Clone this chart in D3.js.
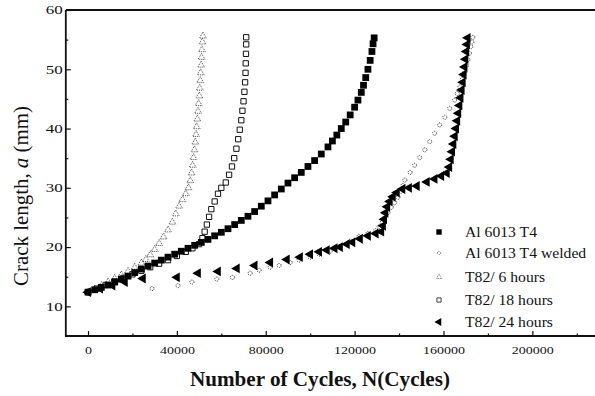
<!DOCTYPE html>
<html>
<head>
<meta charset="utf-8">
<script src="https://cdn.jsdelivr.net/npm/d3@7/dist/d3.min.js"></script>
<style>
  body { margin: 0; background: #fff; }
  svg { display: block; }
  text { font-family: "Liberation Serif", "Times New Roman", serif; fill: #111; }
</style>
</head>
<body>
<svg id="chart" width="595" height="396"></svg>
<script>
// crack length a (mm) vs number of cycles N
const seriesNames = ['Al 6013 T4', 'Al 6013 T4 welded', 'T82/  6 hours', 'T82/ 18 hours', 'T82/ 24 hours'];

const alT4 = [[0,12.4],[3000,12.8],[6000,13.2],[9000,13.6],[12000,14.1],[15000,14.6],[18000,15.1],[21000,15.7],
  [24000,16.3],[27000,16.8],[30000,17.3],[33000,17.8],[36000,18.3],[39000,18.8],[42000,19.3],[45000,19.8],
  [48000,20.3],[51000,20.8],[54000,21.3],[57000,21.9],[60000,22.5],[63000,23.1],[66000,23.8],[69000,24.5],
  [72000,25.2],[75000,26.0],[78000,26.9],[81000,27.8],[84000,28.8],[87000,29.8],[90000,30.8],[93000,31.7],
  [96000,32.6],[99000,33.6],[102000,34.6],[105000,35.7],[108000,36.9],[110000,37.9],[112000,38.9],[114000,40.0],
  [116000,41.1],[118000,42.3],[120000,43.6],[121500,44.8],[123000,46.1],[124000,47.3],[125000,48.6],[126000,50.0],
  [127000,51.5],[127800,53.0],[128300,54.3],[128800,55.3]];

const alT4Welded = [[0,12.5],[28800,13.0],[40500,13.5],[46800,14.1],[58000,14.6],[65000,14.9],[73000,15.6],[77000,16.1],
  [82000,16.6],[86000,16.9],[91000,17.4],[95000,17.8],[100000,18.3],[104000,18.8],[109000,19.3],[113000,20.0],
  [118000,21.0],[122000,21.8],[126000,22.3],[129500,22.8],[131000,23.4],[132500,24.2],[133600,25.0],[135000,25.8],
  [136500,26.7],[138000,27.5],[139500,28.4],[140800,29.4],[141800,30.4],[142600,31.3],[145000,32.6],[147000,33.8],
  [149300,35.1],[151600,36.4],[153800,37.8],[156000,39.2],[158300,40.6],[160600,41.9],[162800,43.4],[165000,44.8],
  [166200,45.9],[167400,47.0],[168500,48.3],[169600,49.5],[170300,50.6],[171000,51.6],[171700,52.7],[172300,53.8],
  [172800,54.6],[173200,55.4]];

const t82h6 = [[0,12.4],[3000,12.9],[6000,13.5],[9000,14.1],[12000,14.7],[15000,15.3],[18000,15.9],[21000,16.6],
  [24000,17.3],[26000,17.9],[28000,18.7],[30000,19.6],[32000,20.6],[34000,21.7],[36000,22.9],[38000,24.2],
  [39500,25.6],[41000,26.9],[42500,28.0],[44000,29.0],[45200,30.0],[46000,31.2],[46600,32.5],[47100,33.8],
  [47500,35.1],[47900,36.4],[48300,37.7],[48600,39.0],[48900,40.3],[49200,41.6],[49500,42.9],[49800,44.2],
  [50100,45.5],[50300,46.8],[50500,48.1],[50700,49.4],[50900,50.7],[51100,52.0],[51300,53.3],[51500,54.6],
  [51700,55.6]];

const t82h18 = [[0,12.4],[4000,13.0],[8000,13.6],[12000,14.2],[16000,14.8],[20000,15.4],[24000,16.0],[28000,16.6],
  [32000,17.2],[36000,17.8],[40000,18.5],[44000,19.2],[47000,19.8],[50000,20.5],[51500,21.5],[52500,22.6],
  [53500,23.8],[54500,25.1],[55500,26.4],[57000,27.7],[58500,29.0],[60000,30.0],[62000,30.9],[63500,32.2],
  [64800,33.6],[65800,35.0],[66800,36.6],[67600,38.2],[68300,39.8],[69000,41.4],[69500,43.0],[70000,44.6],
  [70400,46.2],[70700,47.8],[70900,49.4],[71000,51.0],[71100,52.6],[71200,54.2],[71200,55.4]];

const t82h24 = [[0,12.4],[5400,13.0],[11000,13.5],[16600,14.1],[24700,14.7],[40000,14.9],[49500,15.6],[58500,15.9],
  [67000,16.4],[75000,16.9],[82000,17.4],[89500,17.9],[95400,18.3],[100000,18.8],[104000,19.2],[107500,19.5],
  [111000,19.8],[113400,20.0],[116500,20.5],[119000,20.8],[122400,21.4],[126000,21.9],[129500,22.3],[132000,22.6],
  [132800,23.6],[133300,24.7],[133900,25.8],[134700,26.8],[135800,27.7],[137200,28.5],[139000,29.2],[141500,29.8],
  [144500,30.0],[148000,30.3],[152500,31.0],[156000,31.5],[159000,32.0],[161500,32.5],[162600,33.5],[163300,34.8],
  [163900,36.1],[164500,37.4],[165100,38.7],[165700,40.0],[166200,41.3],[166700,42.6],[167200,43.9],[167700,45.2],
  [168200,46.5],[168700,47.8],[169100,49.1],[169500,50.4],[169900,51.7],[170300,53.0],[170600,54.2],[170900,55.3]];

const xTicks = [0, 40000, 80000, 120000, 160000, 200000];
const xMinorTicks = [20000, 60000, 100000, 140000, 180000, 220000];
const yTicks = [10, 20, 30, 40, 50, 60];
const yMinorTicks = [15, 25, 35, 45, 55];

const svg = d3.select('#chart');
const plotLeft = 65.8, plotTop = 10, plotBottom = 336;

const x = d3.scaleLinear().domain([-10000, 230000]).range([plotLeft, 599]);
const y = d3.scaleLinear().domain([5, 60]).range([plotBottom, plotTop]);

// axes, ticks point inward
const gx = svg.append('g').attr('transform', `translate(0,${plotBottom})`)
  .call(d3.axisBottom(x).tickValues(xTicks).tickSize(-5).tickPadding(10).tickFormat(d3.format('d')));
svg.append('g').attr('transform', `translate(0,${plotBottom})`)
  .call(d3.axisBottom(x).tickValues(xMinorTicks).tickSize(-2.5).tickFormat(''));
const gy = svg.append('g').attr('transform', `translate(${plotLeft},0)`)
  .call(d3.axisLeft(y).tickValues(yTicks).tickSize(-5).tickPadding(3));
svg.append('g').attr('transform', `translate(${plotLeft},0)`)
  .call(d3.axisLeft(y).tickValues(yMinorTicks).tickSize(-2.5).tickFormat(''));

svg.selectAll('.domain').remove();
svg.selectAll('.tick line').attr('stroke', '#111').attr('stroke-width', 1.2);

gx.selectAll('text')
  .style('font-size', '11px')
  .attr('textLength', function () { return this.textContent.length * 7; })
  .attr('lengthAdjust', 'spacingAndGlyphs');
gy.selectAll('text')
  .style('font-size', '12px')
  .attr('textLength', function () { return this.textContent.length * 8.5; })
  .attr('lengthAdjust', 'spacingAndGlyphs');

// frame (right side runs off the page)
svg.append('path')
  .attr('d', `M${plotLeft},${plotTop}H595M${plotLeft},${plotTop}V${plotBottom}H595`)
  .attr('fill', 'none').attr('stroke', '#111').attr('stroke-width', 1.8);

// marker styles
const sym = {
  square: d3.symbol().type(d3.symbolSquare).size(46),
  circle: d3.symbol().type(d3.symbolCircle).size(13),
  tri: d3.symbol().type(d3.symbolTriangle).size(20),
  box: d3.symbol().type(d3.symbolSquare).size(28),
  ltri: d3.symbol().type(d3.symbolTriangle).size(42)
};

const series = [
  { name: seriesNames[2], data: t82h6, path: sym.tri(), rot: 0, fill: 'none', stroke: '#333', sw: 0.9, dash: '1,1' },
  { name: seriesNames[1], data: alT4Welded, path: sym.circle(), rot: 0, fill: 'none', stroke: '#333', sw: 1, dash: '1,1' },
  { name: seriesNames[3], data: t82h18, path: sym.box(), rot: 0, fill: 'none', stroke: '#111', sw: 1, dash: null },
  { name: seriesNames[0], data: alT4, path: sym.square(), rot: 0, fill: '#000', stroke: 'none', sw: 0, dash: null },
  { name: seriesNames[4], data: t82h24, path: sym.ltri(), rot: -90, fill: '#000', stroke: 'none', sw: 0, dash: null }
];

series.forEach(s => {
  svg.append('g').selectAll('path')
    .data(s.data)
    .join('path')
    .attr('d', s.path)
    .attr('transform', d => `translate(${x(d[0])},${y(d[1])}) rotate(${s.rot})`)
    .attr('fill', s.fill)
    .attr('stroke', s.stroke)
    .attr('stroke-width', s.sw)
    .attr('stroke-dasharray', s.dash);
});

// legend, same order as the figure: T4, welded, 6 h, 18 h, 24 h
const legendRows = [232, 253, 277, 300, 322];
const legendOrder = [3, 1, 0, 2, 4];
const legend = svg.append('g');
legendOrder.forEach((si, i) => {
  const s = series[si];
  legend.append('path')
    .attr('d', s.path)
    .attr('transform', `translate(439,${legendRows[i]}) rotate(${s.rot}) scale(0.8)`)
    .attr('fill', s.fill).attr('stroke', s.stroke)
    .attr('stroke-width', s.sw).attr('stroke-dasharray', s.dash);
  legend.append('text')
    .attr('transform', `translate(465,${legendRows[i] + 5}) scale(1.12,1)`)
    .style('font-size', '14px')
    .text(s.name);
});

// axis titles
svg.append('text')
  .attr('x', 320).attr('y', 386)
  .attr('text-anchor', 'middle')
  .attr('textLength', 260).attr('lengthAdjust', 'spacingAndGlyphs')
  .style('font-size', '22px').style('font-weight', 'bold')
  .text('Number of Cycles, N(Cycles)');

const yt = svg.append('text')
  .attr('transform', 'translate(28,196) rotate(-90) scale(0.95,1)')
  .attr('text-anchor', 'middle')
  .style('font-size', '22px');
yt.append('tspan').text('Crack length, ');
yt.append('tspan').style('font-style', 'italic').text('a');
yt.append('tspan').text(' (mm)');
</script>
</body>
</html>
